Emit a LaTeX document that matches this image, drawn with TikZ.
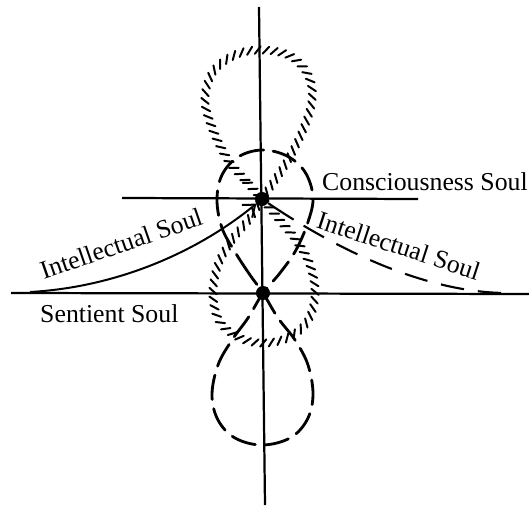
\documentclass[tikz,border=0pt]{standalone}
\usepackage{fontspec}
\setmainfont{Liberation Serif}
\usepackage{tikz}
\usetikzlibrary{arrows.meta, decorations.markings}

\begin{document}
\begin{tikzpicture}[x=0.03cm, y=-0.03cm,
  axis/.style={line width=1.9pt, black},
  soul/.style={font=\fontsize{22}{26}\selectfont, inner sep=0pt},
  dot/.style={circle, fill=black, inner sep=0pt, minimum size=12pt},
  loopdash/.style={line width=2.4pt, dash pattern=on 21pt off 8pt, line cap=round},
  hatched/.style={postaction={decorate}, decoration={markings,
    mark=between positions 0 and 1 step 7pt with
      {\draw[line width=1.7pt, line cap=round] (-2.6pt,-3.1pt) -- (2.6pt,3.1pt);}}},
  arr/.style={line width=1.7pt, -{Straight Barb[length=9pt,width=14pt,line width=1.7pt]}}]

  \useasboundingbox (0,0) rectangle (529,507);

  % Axes
  \coordinate (vtop) at (259,7);
  \coordinate (vbot) at (265,505);
  \coordinate (cleft) at (122,198);
  \coordinate (cright) at (418,199);
  \coordinate (sleft) at (11,293);
  \coordinate (sright) at (529,294);
  \draw[axis] (vtop) -- (vbot);
  \draw[axis] (cleft) -- (cright);
  \draw[axis] (sleft) -- (sright);

  % Hatched figure eight, crossing at the upper point
  \path[hatched] plot[smooth cycle, tension=0.6] coordinates {
    (262,199) (245,180) (228,160) (213,130) (205,100) (213,72) (235,55)
    (262,50) (290,56) (308,75) (312,100) (303,130) (288,160) (275,180)
    (262,199) (250,218) (232,240) (218,265) (213,295) (220,322) (240,338)
    (263,343) (287,338) (307,322) (315,295) (310,265) (296,240) (278,218)};

  % Dashed figure eight, crossing at the lower point
  \draw[loopdash] plot[smooth cycle, tension=0.6] coordinates {
    (263,293) (250,275) (235,252) (222,228) (217,200) (222,175) (238,157)
    (262,150) (287,156) (305,172) (313,197) (308,222) (296,250) (280,273)
    (263,293) (248,318) (232,340) (218,365) (212,395) (218,420) (235,438)
    (262,445) (290,438) (307,420) (313,395) (308,365) (295,340) (278,318)};

  % Points
  \node[dot] (cons) at (262,199) {};
  \node[dot] (sent) at (263,293) {};

  % Intellectual Soul curves
  \coordinate (istart) at (30,292);
  \coordinate (iend) at (505,293);
  \draw[arr] (istart) .. controls (120,287) and (200,250) .. (cons);
  \draw[line width=1.8pt, dash pattern=on 26pt off 10pt on 20pt off 12pt
    on 20pt off 12pt on 20pt off 12pt on 20pt off 12pt on 20pt off 12pt
    on 20pt off 100pt]
    (cons) .. controls (330,245) and (420,292) .. (iend);

  % Labels
  \node[soul, anchor=base west] (lcons) at (322,190) {Consciousness Soul};
  \node[soul, anchor=base west] (lsent) at (40,322) {Sentient Soul};
  \node[soul, anchor=base, rotate=19] (lintl) at (124,252) {Intellectual Soul};
  \node[soul, anchor=base, rotate=-18] (lintr) at (396,254) {Intellectual Soul};
\end{tikzpicture}
\end{document}
